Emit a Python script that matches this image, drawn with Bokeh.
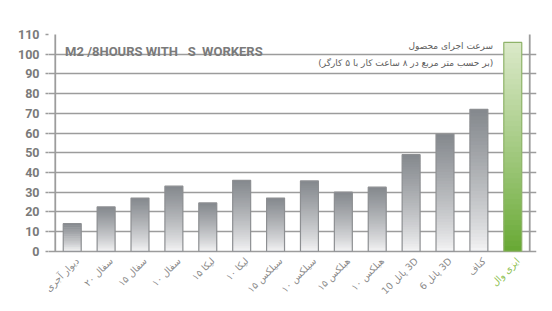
import math
from bokeh.plotting import figure
from bokeh.models import FactorRange, Range1d, FixedTicker, Label, ColumnDataSource
from bokeh.core.properties import value
from bokeh.embed import file_html
from bokeh.resources import INLINE

# ---------------- data ----------------
categories = ["دیوار آجری", "سفال ۲۰", "سفال ۱۵", "سفال ۱۰", "لیکا ۱۵", "لیکا ۱۰",
              "سیلکس ۱۵", "سیلکس ۱۰", "هبلکس ۱۵", "هبلکس ۱۰",
              "3D پانل 10", "3D پانل 6", "کناف", "ایزی وال"]
values = [14, 22.5, 27, 33, 24.5, 36, 27, 35.7, 30, 32.5, 49, 59.5, 72, 106]
highlight = [False] * 13 + [True]
y_ticks = [0, 10, 20, 30, 40, 50, 60, 70, 80, 90, 100, 110]
title_en = "M2 /8HOURS WITH\u00a0\u00a0 S\u00a0 WORKERS"
title_fa_1 = "سرعت اجرای محصول"
title_fa_2 = "(بر حسب متر مربع در ۸ ساعت کار با ۵ کارگر)"

# ---------------- figure ----------------
x_range = FactorRange(*categories, factor_padding=0,
                      range_padding=0.2, range_padding_units="absolute")
p = figure(x_range=x_range, y_range=Range1d(-25, 110),
           width=552, height=311, output_backend="svg", toolbar_location=None,
           min_border_left=48, min_border_right=16, min_border_top=34, min_border_bottom=11)
p.background_fill_color = "white"
p.border_fill_color = "white"
p.outline_line_color = None

GRID = "#9c9c9c"
TXT = "#7a7a7a"

p.xgrid.grid_line_color = None
p.ygrid.grid_line_color = GRID
p.ygrid.grid_line_width = 1.6
p.ygrid.ticker = FixedTicker(ticks=y_ticks)

p.xaxis.visible = False

p.yaxis.ticker = FixedTicker(ticks=y_ticks)
p.yaxis.axis_line_color = None
p.yaxis.major_tick_line_color = GRID
p.yaxis.major_tick_line_width = 1.6
p.yaxis.major_tick_out = 3
p.yaxis.major_tick_in = 0
p.yaxis.minor_tick_line_color = None
p.yaxis.major_label_standoff = 6
p.yaxis.major_label_text_font = "Roboto"
p.yaxis.major_label_text_font_style = "bold"
p.yaxis.major_label_text_font_size = "12.5px"
p.yaxis.major_label_text_color = TXT

# plot box side lines (from 0 up to the top of the value range)
n = len(categories)
p.segment(x0=[0, n], y0=[0, 0], x1=[0, n], y1=[y_ticks[-1] + 2] * 2,
          line_color=GRID, line_width=1.8)

# ---------------- gradient bars ----------------
def lerp(c1, c2, t):
    a = [int(c1[i:i + 2], 16) for i in (1, 3, 5)]
    b = [int(c2[i:i + 2], 16) for i in (1, 3, 5)]
    return "#%02x%02x%02x" % tuple(round(a[k] + (b[k] - a[k]) * t) for k in range(3))

N = 40
xs, bots, tops, cols = [], [], [], []
for cat, v, hl in zip(categories, values, highlight):
    for k in range(N):
        t = (k + 0.5) / N
        xs.append(cat)
        bots.append(v * k / N)
        tops.append(min(v, v * (k + 1.8) / N))
        if hl:
            cols.append(lerp("#66a832", "#dbe9c9", t ** 0.9))
        else:
            cols.append(lerp("#f6f6f7", "#84888d", t ** 0.8))

W = 0.53
p.vbar(x=xs, bottom=bots, top=tops, width=W, fill_color=cols, line_color=None)

outline_cols = ["#8fb36a" if hl else "#8d8f92" for hl in highlight]
p.vbar(x=categories, top=values, bottom=0, width=W, fill_color=None,
       line_color=outline_cols, line_width=1.2)

# ---------------- category labels (rotated, like an axis) ----------------
def bidi(s):
    # mixed latin/persian labels kept in right-to-left order
    return "\u202b" + s + "\u202c" if any(ch.isascii() and ch.isalpha() for ch in s) else s

lab_src = ColumnDataSource(dict(
    x=categories,
    y=[0] * n,
    text=[bidi(c) for c in categories],
    color=["#8cc04f" if hl else "#8a8a8a" for hl in highlight],
))
p.text(x="x", y="y", text="text", source=lab_src, x_offset=5, y_offset=8,
       angle=math.pi / 4, text_align="right", text_baseline="middle",
       text_font=value("DejaVu Sans"), text_font_size="9.5px", text_color="color")

# ---------------- titles ----------------
p.add_layout(Label(x=0.29, y=101.3, text=title_en, text_font="Roboto",
                   text_font_style="bold", text_font_size="13px", text_color=TXT,
                   text_align="left", text_baseline="alphabetic"))
p.add_layout(Label(x=12.92, y=104.4, text=title_fa_1, text_font="DejaVu Sans",
                   text_font_size="9px", text_color="#5e5e5e",
                   text_align="right", text_baseline="middle"))
p.add_layout(Label(x=12.92, y=95.3, text=title_fa_2, text_font="DejaVu Sans",
                   text_font_size="9px", text_color="#5e5e5e",
                   text_align="right", text_baseline="middle"))

open("out.html", "w").write(file_html(p, INLINE))
